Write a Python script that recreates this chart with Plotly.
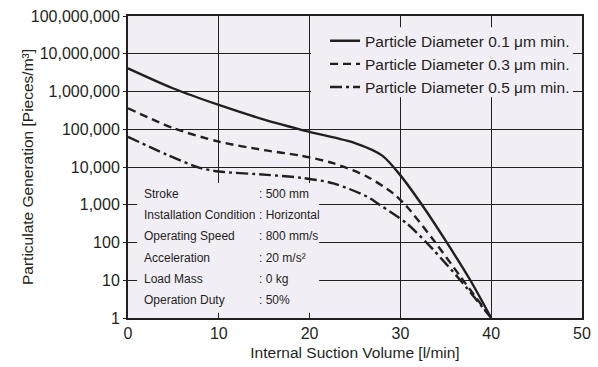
import plotly.graph_objects as go

# ---- data ----
x_d01 = [0, 5, 10, 15, 20, 25, 28, 30, 32.5, 35, 37.7, 40]
y_d01 = [4.1e6, 1.2e6, 4.4e5, 1.8e5, 8.5e4, 4.3e4, 2.0e4, 6.0e3, 9.0e2, 1.1e2, 10, 1]

x_d03 = [0, 5, 10, 15, 19, 22.6, 26.3, 29.2, 30.7, 33.6, 36.6, 40]
y_d03 = [3.6e5, 1.07e5, 4.7e4, 2.8e4, 2.0e4, 1.26e4, 5.6e3, 2.0e3, 9.0e2, 1.2e2, 12.6, 1]

x_d05 = [0, 4.3, 7.9, 10, 15.3, 19, 22.6, 26.3, 27.7, 30.7, 33.6, 36.6, 40]
y_d05 = [6.3e4, 2.1e4, 9.5e3, 7.6e3, 6.2e3, 5.2e3, 3.7e3, 1.65e3, 1.0e3, 3.2e2, 65, 10, 1]

series_names = ["Particle Diameter 0.1 \u03bcm min.",
                "Particle Diameter 0.3 \u03bcm min.",
                "Particle Diameter 0.5 \u03bcm min."]

y_tickvals = [1, 10, 100, 1000, 1e4, 1e5, 1e6, 1e7, 1e8]
y_ticktext = ["1", "10", "100", "1,000", "10,000", "100,000",
              "1,000,000", "10,000,000", "100,000,000"]
x_tickvals = [0, 10, 20, 30, 40, 50]

cond_labels = ["Stroke", "Installation Condition", "Operating Speed",
               "Acceleration", "Load Mass", "Operation Duty"]
cond_values = [": 500 mm", ": Horizontal", ": 800 mm/s",
               ": 20 m/s\u00b2", ": 0 kg", ": 50%"]

x_title = "Internal Suction Volume [l/min]"
y_title = "Particulate Generation [Pieces/m\u00b3]"

# ---- style ----
BG = "#f2eef5"
INK = "#231f20"
FONT = "Liberation Sans, Arial, sans-serif"

fig = go.Figure()
dashes = ["solid", "8px,5px", "12px,4px,3px,4px"]
for xs, ys, name, dash in zip([x_d01, x_d03, x_d05], [y_d01, y_d03, y_d05],
                              series_names, dashes):
    fig.add_trace(go.Scatter(x=xs, y=ys, mode="lines", name=name,
                             line=dict(color=INK, width=2.4, dash=dash,
                                       shape="spline", smoothing=0.8)))

# background boxes hiding grid under the legend and the condition table
fig.add_shape(type="rect", xref="paper", yref="paper",
              x0=0.403, x1=0.980, y0=0.731, y1=0.963,
              fillcolor=BG, line_width=0, layer="above")
fig.add_shape(type="rect", xref="paper", yref="paper",
              x0=0.020, x1=0.421, y0=0.0175, y1=0.447,
              fillcolor=BG, line_width=0, layer="above")

# condition table
row_y0 = (318.3 - 194) / 302.6
row_step = 21.3 / 302.6
for i, (lab, val) in enumerate(zip(cond_labels, cond_values)):
    yy = row_y0 - i * row_step
    fig.add_annotation(x=0.031, y=yy, xref="paper", yref="paper", text=lab,
                       showarrow=False, xanchor="left", yanchor="middle",
                       font=dict(family=FONT, size=12, color=INK))
    fig.add_annotation(x=0.284, y=yy, xref="paper", yref="paper", text=val,
                       showarrow=False, xanchor="left", yanchor="middle",
                       font=dict(family=FONT, size=12, color=INK))

# y axis title (placed as rotated text next to the tick labels)
fig.add_annotation(x=(27 - 128) / 454, y=0.5, xref="paper", yref="paper",
                   text=y_title, textangle=-90, showarrow=False,
                   xanchor="center", yanchor="middle",
                   font=dict(family=FONT, size=15.5, color=INK))

fig.update_layout(
    width=598, height=367,
    margin=dict(l=128, r=16, t=16, b=49),
    paper_bgcolor="white", plot_bgcolor=BG,
    font=dict(family=FONT, size=15.5, color=INK),
    showlegend=True,
    legend=dict(x=0.434, y=0.973, xanchor="left", yanchor="top",
                bgcolor="rgba(0,0,0,0)", font=dict(size=15.5, color=INK),
                tracegroupgap=0, itemwidth=30),
    xaxis=dict(range=[0, 50], tickvals=x_tickvals, showgrid=True,
               gridcolor=INK, gridwidth=1.3, showline=True, linecolor=INK,
               linewidth=2, mirror=True, ticks="", zeroline=False,
               tickfont=dict(size=16), automargin=False,
               title=dict(text=x_title, standoff=6, font=dict(size=15.5))),
    yaxis=dict(type="log", range=[0, 8], tickvals=y_tickvals,
               ticktext=y_ticktext, showgrid=True, gridcolor=INK,
               gridwidth=1.3, showline=True, linecolor=INK, linewidth=2,
               mirror=True, ticks="outside", ticklen=3, tickcolor=INK,
               tickwidth=1.3, zeroline=False, tickfont=dict(size=16),
               automargin=False),
)

fig.write_html("out.html", config={"displayModeBar": False},
               post_script="document.body.style.margin='0px';")
